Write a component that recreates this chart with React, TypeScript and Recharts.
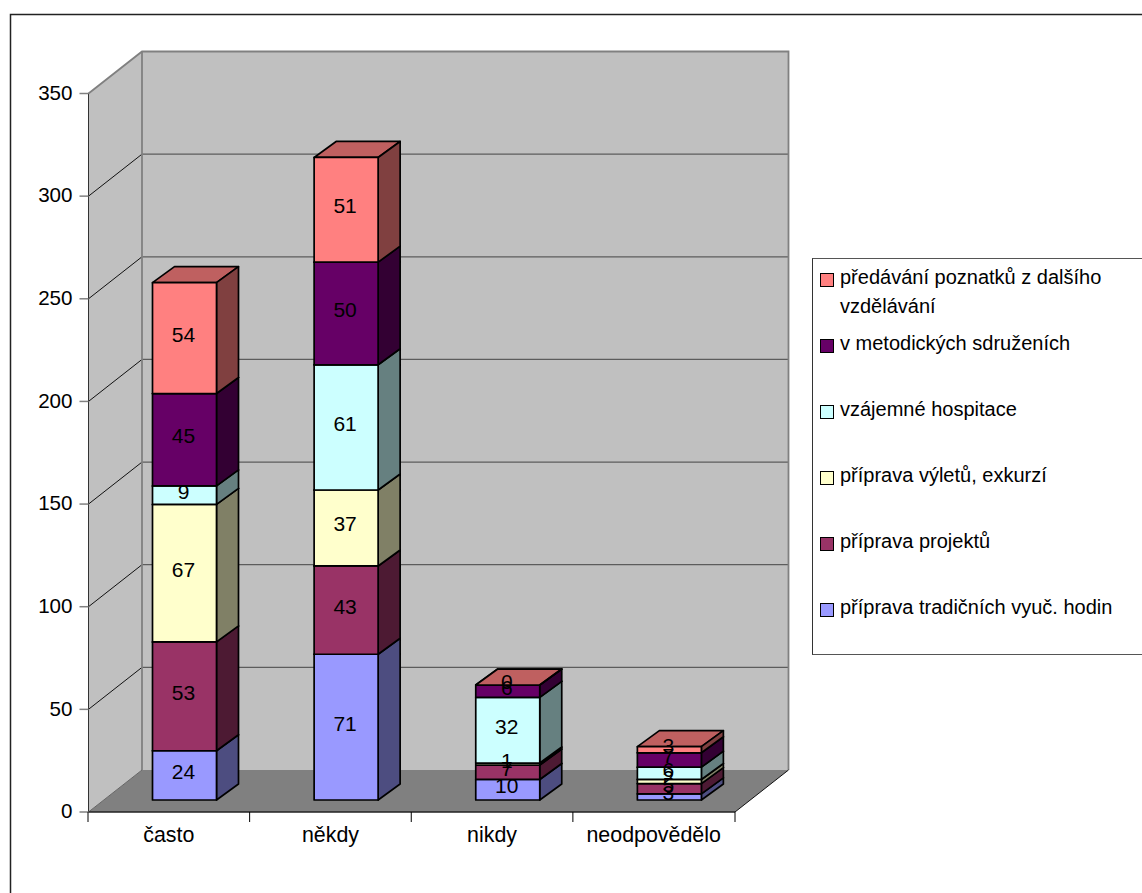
import React from "react";
import { BarChart, Bar, XAxis, YAxis, Legend, Customized } from "recharts";

const categories = ["často", "někdy", "nikdy", "neodpovědělo"];

// bottom of the stack first
const tradicni = [24, 71, 10, 3];
const projekty = [53, 43, 7, 5];
const vylety = [67, 37, 1, 2];
const hospitace = [9, 61, 32, 6];
const sdruzeni = [45, 50, 6, 7];
const poznatky = [54, 51, 0, 3];

const yTicks = [0, 50, 100, 150, 200, 250, 300, 350];

const series = [
  { key: "tradicni", name: "příprava tradičních vyuč. hodin", values: tradicni, color: [153, 153, 255] },
  { key: "projekty", name: "příprava projektů", values: projekty, color: [153, 51, 102] },
  { key: "vylety", name: "příprava výletů, exkurzí", values: vylety, color: [255, 255, 204] },
  { key: "hospitace", name: "vzájemné hospitace", values: hospitace, color: [204, 255, 255] },
  { key: "sdruzeni", name: "v metodických sdruženích", values: sdruzeni, color: [102, 0, 102] },
  { key: "poznatky", name: "předávání poznatků z dalšího vzdělávání", values: poznatky, color: [255, 128, 128] },
];

const rows = categories.map((name, i) => {
  const row: Record<string, string | number> = { name };
  series.forEach((s) => (row[s.key] = s.values[i]));
  return row;
});

const FONT = "'Liberation Sans', Arial, sans-serif";
const LEGEND_SIZE = 20;
const LABEL_SIZE = 21;
const CATEGORY_SIZE = 21.4;
const VALUE_SIZE = 20.6;

// plot box of the front plane
const LEFT = 88.5;
const RIGHT = 735;
const TOP = 93.5;
const BOTTOM = 812;
const SLOT = (RIGHT - LEFT) / categories.length;
// depth of the walls and of the boxes
const WALL_DX = 53.5;
const WALL_DY = 42;
const BOX_DX = 22;
const BOX_DY = 16;
// boxes stand a little behind the front edge of the floor
const SHIFT_X = 15;
const SHIFT_Y = 12;

const shade = (c: number[], f: number) =>
  `rgb(${c.map((v) => Math.round(v * f)).join(",")})`;

const tickY = (v: number) => BOTTOM - ((BOTTOM - TOP) * v) / 350;

const Walls = () => (
  <g>
    <rect x={10.5} y={14.5} width={1300} height={1000} fill="#fff" stroke="#222" strokeWidth={1.5} />
    <polygon
      points={`${LEFT},${TOP} ${LEFT + WALL_DX},${TOP - WALL_DY} ${RIGHT + WALL_DX},${TOP - WALL_DY} ${RIGHT + WALL_DX},${BOTTOM - WALL_DY} ${LEFT + WALL_DX},${BOTTOM - WALL_DY} ${LEFT},${BOTTOM}`}
      fill="#c0c0c0"
    />
    <polygon
      points={`${LEFT},${BOTTOM} ${LEFT + WALL_DX},${BOTTOM - WALL_DY} ${RIGHT + WALL_DX},${BOTTOM - WALL_DY} ${RIGHT},${BOTTOM}`}
      fill="#808080"
    />
    {yTicks.slice(1, -1).map((v) => (
      <g key={v}>
        <line x1={LEFT} y1={tickY(v)} x2={LEFT + WALL_DX} y2={tickY(v) - WALL_DY} stroke="#111" strokeWidth={1} />
        <line x1={LEFT + WALL_DX} y1={tickY(v) - WALL_DY} x2={RIGHT + WALL_DX} y2={tickY(v) - WALL_DY} stroke="#5c5c5c" strokeWidth={1.3} />
      </g>
    ))}
    <polyline
      points={`${LEFT},${TOP} ${LEFT + WALL_DX},${TOP - WALL_DY} ${RIGHT + WALL_DX},${TOP - WALL_DY} ${RIGHT + WALL_DX},${BOTTOM - WALL_DY}`}
      fill="none"
      stroke="#808080"
      strokeWidth={1.8}
    />
    <line x1={LEFT + WALL_DX} y1={TOP - WALL_DY} x2={LEFT + WALL_DX} y2={BOTTOM - WALL_DY} stroke="#808080" strokeWidth={1.8} />
    <line x1={LEFT} y1={BOTTOM} x2={LEFT + WALL_DX} y2={BOTTOM - WALL_DY} stroke="#666" strokeWidth={1} />
    <line x1={RIGHT} y1={BOTTOM} x2={RIGHT + WALL_DX} y2={BOTTOM - WALL_DY} stroke="#111" strokeWidth={1} />
  </g>
);

// one stack segment as a box: front, top and side faces
const boxShape = (color: number[]) => (props: any) => {
  const x = props.x + SHIFT_X;
  const y = props.y - SHIFT_Y;
  const w = props.width;
  const h = props.height;
  const face = { stroke: "#000", strokeWidth: 1.7, strokeLinejoin: "round" as const };
  return (
    <g>
      <polygon
        points={`${x},${y} ${x + BOX_DX},${y - BOX_DY} ${x + w + BOX_DX},${y - BOX_DY} ${x + w},${y}`}
        fill={shade(color, 0.75)}
        {...face}
      />
      <polygon
        points={`${x + w},${y} ${x + w + BOX_DX},${y - BOX_DY} ${x + w + BOX_DX},${y + h - BOX_DY} ${x + w},${y + h}`}
        fill={shade(color, 0.5)}
        {...face}
      />
      <rect x={x} y={y} width={w} height={h} fill={shade(color, 1)} {...face} />
    </g>
  );
};

// labels go in a second pass so that they sit above every box
const labelShape = (props: any) => (
  <text
    x={props.x + SHIFT_X + props.width / 2 - 1}
    y={props.y - SHIFT_Y + props.height / 2 - 4}
    textAnchor="middle"
    dominantBaseline="central"
    fontSize={LABEL_SIZE}
    fontFamily={FONT}
    fill="#000"
  >
    {props.value[1] - props.value[0]}
  </text>
);

const CategoryTick = (props: any) => {
  const { x, y, payload } = props;
  const last = payload.index === categories.length - 1;
  return (
    <g>
      <line x1={x - SLOT / 2 - 0.5} y1={BOTTOM} x2={x - SLOT / 2 - 0.5} y2={BOTTOM + 10} stroke="#000" />
      {last && <line x1={x + SLOT / 2} y1={BOTTOM} x2={x + SLOT / 2} y2={BOTTOM + 10} stroke="#000" />}
      <text x={x - 0.5} y={y + 22} textAnchor="middle" fontSize={CATEGORY_SIZE} fontFamily={FONT} fill="#000">
        {payload.value}
      </text>
    </g>
  );
};

const LegendBox = () => (
  <div
    style={{
      position: "relative",
      width: 330,
      height: 397,
      boxSizing: "border-box",
      borderTop: "1.5px solid #555",
      borderLeft: "1.5px solid #333",
      borderBottom: "1.5px solid #555",
      background: "#fff",
      fontFamily: FONT,
      fontSize: LEGEND_SIZE,
      color: "#000",
    }}
  >
    {[...series].reverse().map((s, i) => (
      <div key={s.key} style={{ position: "absolute", left: 7, top: 8 + i * 66, display: "flex" }}>
        <span
          style={{
            width: 12,
            height: 12,
            marginTop: 6,
            marginRight: 6,
            flex: "none",
            border: "1.5px solid #000",
            background: shade(s.color, 1),
          }}
        />
        <span style={{ width: 300, lineHeight: "29px", marginTop: -4 }}>{s.name}</span>
      </div>
    ))}
  </div>
);

export default function App() {
  return (
    <div style={{ position: "absolute", left: 0, top: 0, width: 1142, height: 893, overflow: "hidden", background: "#fff" }}>
      <BarChart
        width={1142}
        height={893}
        data={rows}
        barSize={64}
        margin={{ left: 28.5, right: 407, top: TOP, bottom: 41 }}
      >
        <Customized component={Walls} />
        <XAxis
          dataKey="name"
          height={40}
          interval={0}
          tickLine={false}
          axisLine={{ stroke: "#222", strokeWidth: 1.5 }}
          tick={<CategoryTick />}
        />
        <YAxis
          width={60}
          domain={[0, 350]}
          ticks={yTicks}
          interval={0}
          tickSize={9}
          tickMargin={7}
          tickLine={{ stroke: "#808080", strokeWidth: 1.5 }}
          axisLine={{ stroke: "#333", strokeWidth: 1 }}
          tick={{ fill: "#000", fontSize: VALUE_SIZE, fontFamily: FONT, dy: -1 }}
        />
        <XAxis xAxisId="labels" dataKey="name" hide />
        <YAxis yAxisId="labels" domain={[0, 350]} hide />
        {series.map((s) => (
          <Bar
            key={s.key}
            dataKey={s.key}
            name={s.name}
            stackId="boxes"
            fill={shade(s.color, 1)}
            shape={boxShape(s.color)}
            isAnimationActive={false}
          />
        ))}
        {series.map((s) => (
          <Bar
            key={s.key + "-label"}
            dataKey={s.key}
            stackId="labels"
            xAxisId="labels"
            yAxisId="labels"
            shape={labelShape}
            legendType="none"
            isAnimationActive={false}
          />
        ))}
        <Legend
          layout="horizontal"
          verticalAlign="middle"
          content={<LegendBox />}
          wrapperStyle={{ left: 812, top: 258, width: 330, height: 397, margin: 0 }}
        />
      </BarChart>
    </div>
  );
}
